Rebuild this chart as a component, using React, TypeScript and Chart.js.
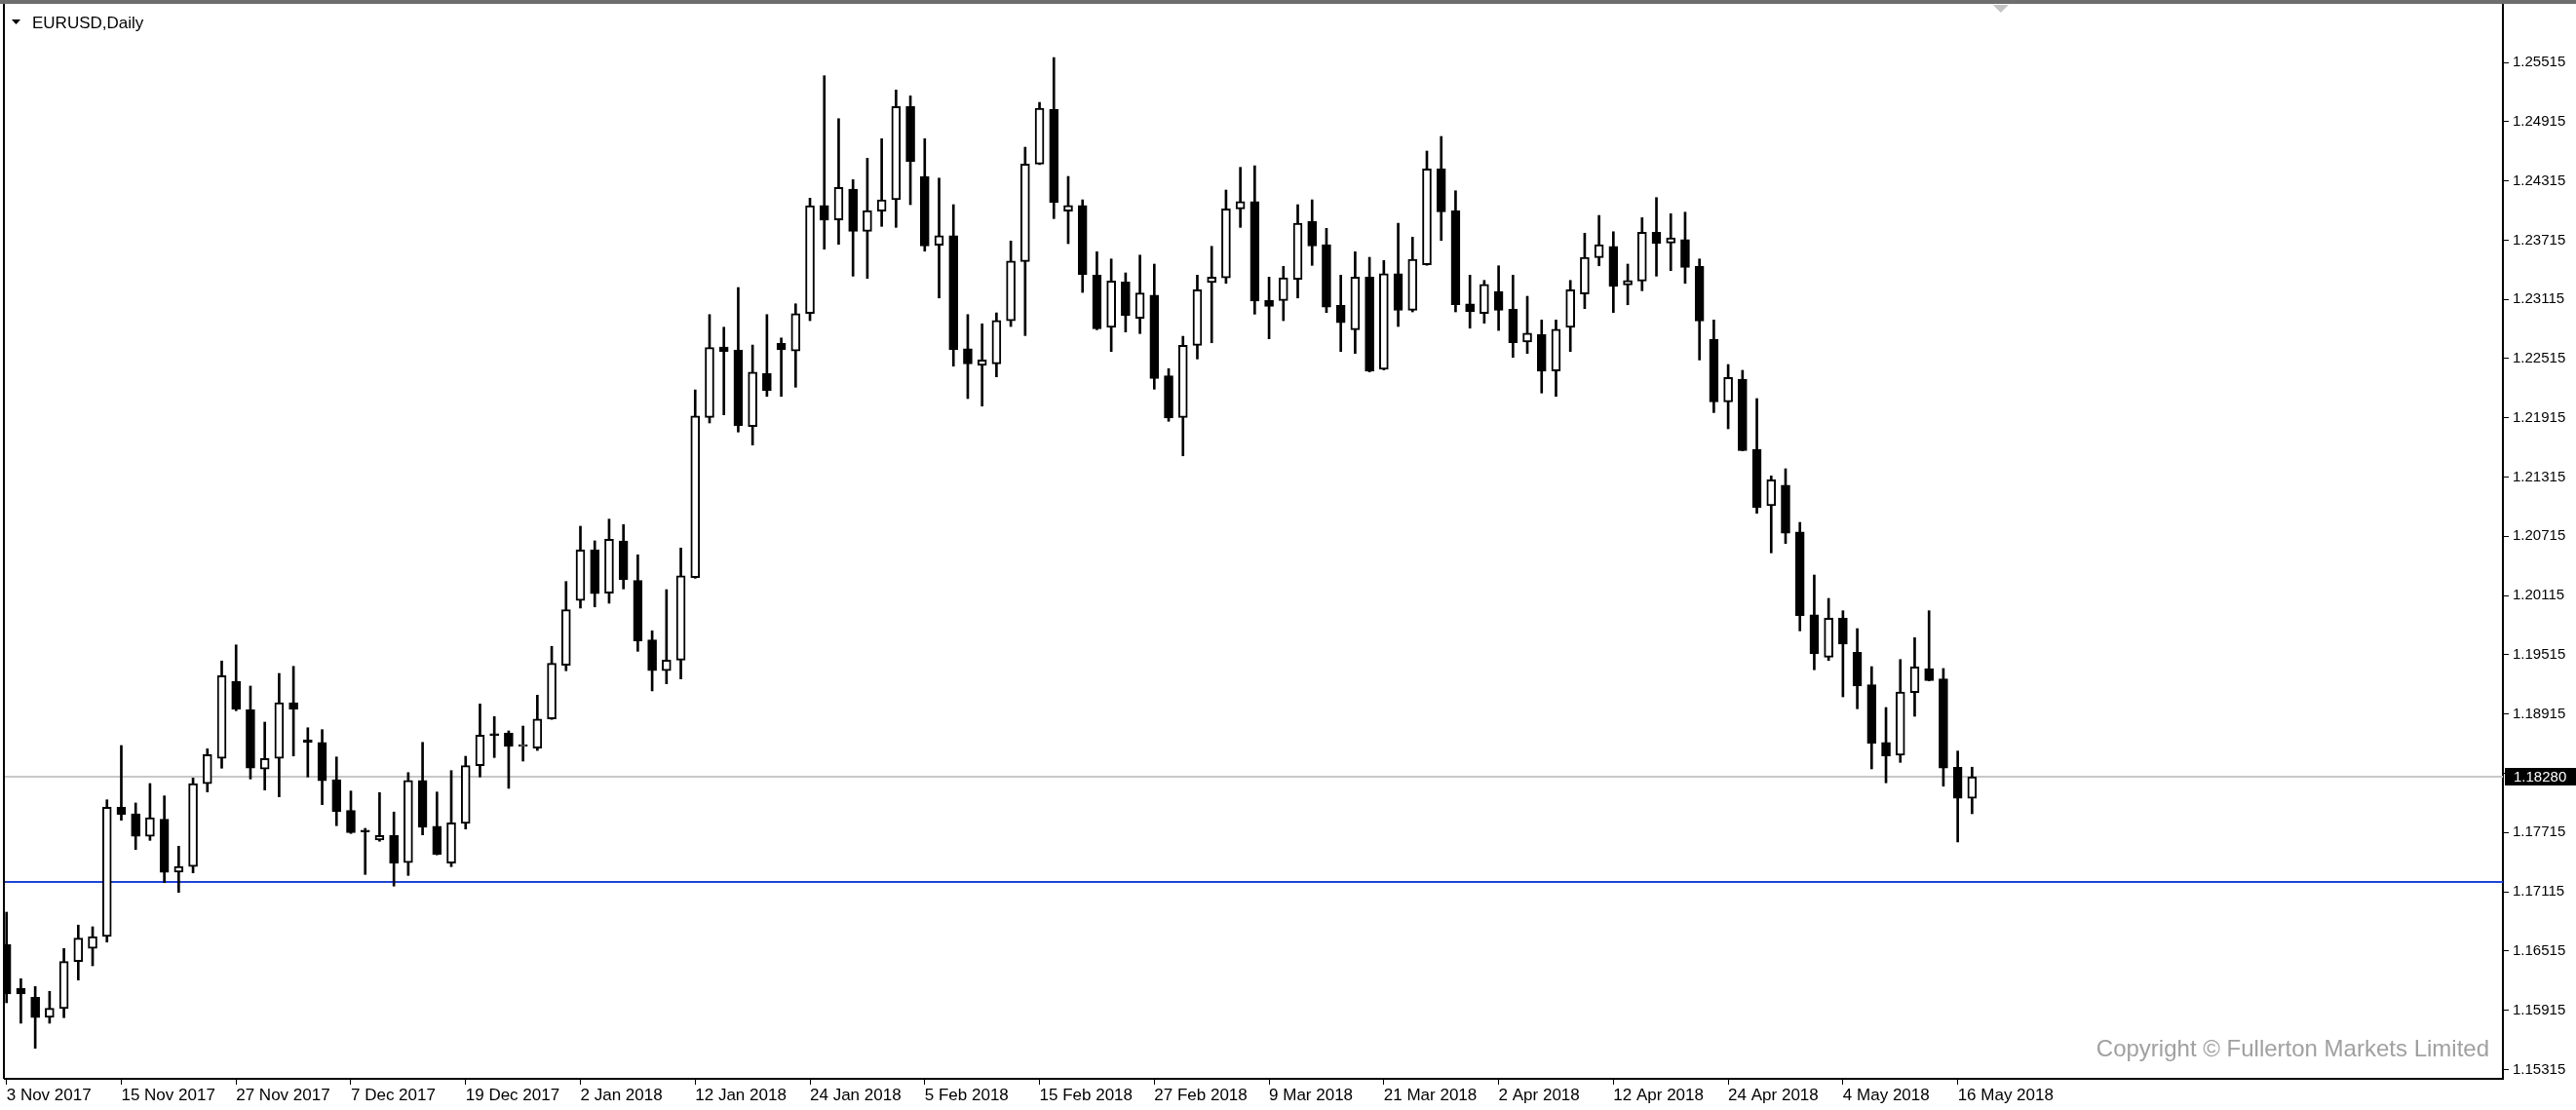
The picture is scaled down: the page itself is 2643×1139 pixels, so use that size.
import React, { useEffect, useRef } from 'react';
import { Chart, registerables } from 'chart.js';

Chart.register(...registerables);

// ---- Data (EURUSD daily, 3 Nov 2017 .. 17 May 2018) ----
const openPrices = [
  1.16582, 1.16138, 1.16046, 1.15842, 1.15931, 1.16408, 1.1654, 1.16661, 1.17971, 1.17905,
  1.17675, 1.17849, 1.17313, 1.17369, 1.18208, 1.18465, 1.19247, 1.18958, 1.18356, 1.18465,
  1.1903, 1.18652, 1.18628, 1.1825, 1.17938, 1.17728, 1.17638, 1.17685, 1.17409, 1.18243,
  1.17777, 1.17405, 1.17806, 1.18392, 1.18717, 1.18721, 1.18586, 1.18569, 1.18865, 1.19408,
  1.20066, 1.20577, 1.20139, 1.20669, 1.20267, 1.19665, 1.19353, 1.19461, 1.20296, 1.21919,
  1.22633, 1.226, 1.21826, 1.22363, 1.22669, 1.22593, 1.22971, 1.24067, 1.23919, 1.24232,
  1.23804, 1.24008, 1.24123, 1.25068, 1.2436, 1.23662, 1.23761, 1.22616, 1.22445, 1.22462,
  1.22899, 1.23498, 1.24485, 1.25038, 1.24008, 1.24067, 1.2336, 1.2283, 1.23291, 1.22922,
  1.23159, 1.2234, 1.21919, 1.22649, 1.23284, 1.23333, 1.24031, 1.24106, 1.23103, 1.23103,
  1.23317, 1.23903, 1.23669, 1.23054, 1.22807, 1.2334, 1.22406, 1.23376, 1.23005, 1.23465,
  1.24436, 1.24014, 1.2307, 1.22971, 1.23195, 1.23015, 1.22682, 1.22758, 1.22389, 1.2283,
  1.23169, 1.23538, 1.23652, 1.23261, 1.23301, 1.23794, 1.23686, 1.23721, 1.23449, 1.22709,
  1.22077, 1.22307, 1.21596, 1.21024, 1.21234, 1.2076, 1.19921, 1.19491, 1.19886, 1.1954,
  1.19211, 1.18628, 1.18497, 1.19132, 1.19376, 1.1927, 1.18376, 1.1806,
];
const highPrices = [
  1.16908, 1.16234, 1.16155, 1.16106, 1.1654, 1.16777, 1.1676, 1.18046, 1.18596, 1.18014,
  1.18211, 1.18086, 1.17576, 1.18267, 1.18563, 1.19452, 1.19615, 1.19198, 1.18833, 1.19326,
  1.19398, 1.18776, 1.18757, 1.1848, 1.18135, 1.17757, 1.18119, 1.17922, 1.18322, 1.18628,
  1.18125, 1.18342, 1.18487, 1.19017, 1.18889, 1.18744, 1.18793, 1.19106, 1.196, 1.20257,
  1.20817, 1.20669, 1.20889, 1.20833, 1.20527, 1.19758, 1.20175, 1.20596, 1.22198, 1.22961,
  1.22833, 1.23235, 1.22652, 1.22961, 1.22724, 1.2307, 1.2414, 1.2538, 1.24945, 1.24327,
  1.24544, 1.24742, 1.25235, 1.25176, 1.24742, 1.24343, 1.24074, 1.22961, 1.22867, 1.22978,
  1.23706, 1.24656, 1.2511, 1.25564, 1.2436, 1.24123, 1.23597, 1.23524, 1.23383, 1.23563,
  1.23472, 1.22413, 1.22741, 1.2336, 1.23652, 1.24222, 1.24452, 1.24468, 1.2334, 1.23449,
  1.24074, 1.24123, 1.23834, 1.2336, 1.23597, 1.23541, 1.23508, 1.23886, 1.23745, 1.24617,
  1.24765, 1.24215, 1.2336, 1.23307, 1.23455, 1.2336, 1.23146, 1.22906, 1.22906, 1.23307,
  1.23785, 1.23965, 1.238, 1.23472, 1.23942, 1.24146, 1.23982, 1.23998, 1.23524, 1.22906,
  1.22455, 1.22396, 1.2211, 1.21327, 1.21399, 1.20856, 1.20323, 1.20086, 1.19961, 1.1978,
  1.19395, 1.18981, 1.19467, 1.19688, 1.19961, 1.19376, 1.1854, 1.18376,
];
const lowPrices = [
  1.1599, 1.15783, 1.15529, 1.15783, 1.15839, 1.1622, 1.16365, 1.16605, 1.17839, 1.17543,
  1.17635, 1.17207, 1.17108, 1.17306, 1.18125, 1.18366, 1.18948, 1.18257, 1.18145, 1.18076,
  1.1849, 1.18277, 1.17997, 1.17784, 1.17705, 1.1729, 1.17626, 1.17172, 1.1728, 1.17691,
  1.17488, 1.17369, 1.1775, 1.18277, 1.18474, 1.18162, 1.18438, 1.18546, 1.1886, 1.19353,
  1.19988, 1.2, 1.20037, 1.20182, 1.1955, 1.19149, 1.19221, 1.1927, 1.2029, 1.21863,
  1.21945, 1.21771, 1.21639, 1.22132, 1.22132, 1.22225, 1.22899, 1.23623, 1.23672, 1.2335,
  1.23327, 1.23854, 1.23844, 1.24074, 1.23603, 1.23129, 1.22438, 1.2211, 1.22034, 1.2233,
  1.2284, 1.22748, 1.2448, 1.23933, 1.23679, 1.23185, 1.22807, 1.22586, 1.22784, 1.22768,
  1.22205, 1.2188, 1.2153, 1.22511, 1.22675, 1.23277, 1.23844, 1.22965, 1.22715, 1.22899,
  1.23129, 1.23459, 1.22981, 1.22586, 1.22567, 1.2238, 1.224, 1.2284, 1.22988, 1.2346,
  1.23711, 1.22988, 1.22823, 1.22873, 1.228, 1.22527, 1.22567, 1.22166, 1.22132, 1.22586,
  1.23021, 1.23455, 1.22981, 1.2306, 1.23202, 1.2335, 1.23406, 1.23277, 1.22501, 1.21968,
  1.21804, 1.2158, 1.20948, 1.20547, 1.20642, 1.19757, 1.19363, 1.19457, 1.19089, 1.18968,
  1.18359, 1.18218, 1.18425, 1.18892, 1.1925, 1.18184, 1.17619, 1.17905,
];
const closePrices = [
  1.16079, 1.16079, 1.15839, 1.15934, 1.16408, 1.16645, 1.16661, 1.17971, 1.17895, 1.17675,
  1.17865, 1.1731, 1.17372, 1.18211, 1.18504, 1.19304, 1.18964, 1.18366, 1.18465, 1.1903,
  1.18964, 1.18625, 1.1824, 1.17928, 1.17714, 1.1772, 1.17685, 1.17405, 1.18243, 1.17767,
  1.17493, 1.17813, 1.18392, 1.18701, 1.18695, 1.18586, 1.186, 1.18865, 1.19428, 1.19971,
  1.20577, 1.20133, 1.20685, 1.20274, 1.19655, 1.19353, 1.19461, 1.20316, 1.21935, 1.22626,
  1.22586, 1.21836, 1.22379, 1.22189, 1.22603, 1.22971, 1.24064, 1.23916, 1.24248, 1.23804,
  1.24014, 1.24123, 1.25068, 1.24511, 1.23656, 1.23761, 1.22603, 1.22462, 1.22501, 1.22902,
  1.23504, 1.24485, 1.25051, 1.24096, 1.24067, 1.23366, 1.22817, 1.23301, 1.22949, 1.23179,
  1.22314, 1.21912, 1.22649, 1.23212, 1.2334, 1.24031, 1.24106, 1.23097, 1.23044, 1.23333,
  1.23886, 1.23656, 1.23037, 1.22879, 1.2334, 1.22386, 1.23376, 1.23005, 1.23521, 1.24436,
  1.24002, 1.2306, 1.22988, 1.23267, 1.23005, 1.22675, 1.22774, 1.22386, 1.22813, 1.23212,
  1.23541, 1.23669, 1.23245, 1.23307, 1.23794, 1.23679, 1.23738, 1.23439, 1.22896, 1.22077,
  1.22324, 1.21583, 1.21004, 1.21287, 1.20745, 1.19912, 1.19527, 1.19886, 1.19622, 1.19198,
  1.18619, 1.1849, 1.19139, 1.19392, 1.19254, 1.18366, 1.1806, 1.1828,
];

const dateTickIndex = [0, 8, 16, 24, 32, 40, 48, 56, 64, 72, 80, 88, 96, 104, 112, 120, 128, 136];
const dateTickLabels = [
  '3 Nov 2017', '15 Nov 2017', '27 Nov 2017', '7 Dec 2017', '19 Dec 2017', '2 Jan 2018',
  '12 Jan 2018', '24 Jan 2018', '5 Feb 2018', '15 Feb 2018', '27 Feb 2018', '9 Mar 2018',
  '21 Mar 2018', '2 Apr 2018', '12 Apr 2018', '24 Apr 2018', '4 May 2018', '16 May 2018',
];
const priceTicks = [
  1.15315, 1.15915, 1.16515, 1.17115, 1.17715, 1.18315, 1.18915, 1.19515, 1.20115,
  1.20715, 1.21315, 1.21915, 1.22515, 1.23115, 1.23715, 1.24315, 1.24915, 1.25515,
];
const hiddenPriceTick = 1.18315; // covered by the bid label in the original
const bidPrice = 1.1828;
const supportLevel = 1.1721;
const chartTitle = 'EURUSD,Daily';
const copyrightText = 'Copyright © Fullerton Markets Limited';

const W = 2643;
const H = 1139;
const FONT = "'Liberation Sans', Arial, sans-serif";

const overlayPlugin = {
  id: 'mt4Overlay',
  beforeDatasetsDraw(chart: any) {
    const { ctx, chartArea: a, scales } = chart;
    const ys = scales.y;
    ctx.save();
    ctx.beginPath();
    ctx.rect(a.left, a.top, a.right - a.left, a.bottom - a.top);
    ctx.clip();
    const by = Math.round(ys.getPixelForValue(bidPrice));
    ctx.strokeStyle = '#c8c8c8';
    ctx.lineWidth = 2;
    ctx.beginPath();
    ctx.moveTo(a.left, by);
    ctx.lineTo(a.right, by);
    ctx.stroke();
    const sy = Math.round(ys.getPixelForValue(supportLevel));
    ctx.strokeStyle = '#1f45d6';
    ctx.lineWidth = 2;
    ctx.beginPath();
    ctx.moveTo(a.left, sy);
    ctx.lineTo(a.right, sy);
    ctx.stroke();
    ctx.restore();
  },
  afterDraw(chart: any) {
    const { ctx, chartArea: a, scales } = chart;
    const ys = scales.y;
    const xs = scales.x;
    ctx.save();
    // window top band
    ctx.fillStyle = '#6e6e6e';
    ctx.fillRect(0, 0, W, 4);
    // left frame
    ctx.strokeStyle = '#000';
    ctx.lineWidth = 2;
    ctx.beginPath();
    ctx.moveTo(a.left - 1, 4);
    ctx.lineTo(a.left - 1, a.bottom);
    ctx.stroke();
    // title
    ctx.fillStyle = '#000';
    ctx.beginPath();
    ctx.moveTo(12, 20);
    ctx.lineTo(21, 20);
    ctx.lineTo(16.5, 25);
    ctx.closePath();
    ctx.fill();
    ctx.font = `17px ${FONT}`;
    ctx.textAlign = 'left';
    ctx.textBaseline = 'alphabetic';
    ctx.fillText(chartTitle, 33, 29);
    // chart-shift marker
    const mx = xs.getPixelForValue(139);
    ctx.fillStyle = '#c4c4c4';
    ctx.beginPath();
    ctx.moveTo(mx - 8, 5);
    ctx.lineTo(mx + 8, 5);
    ctx.lineTo(mx, 13);
    ctx.closePath();
    ctx.fill();
    // bid label
    const by = Math.round(ys.getPixelForValue(bidPrice));
    ctx.fillStyle = '#000';
    ctx.fillRect(a.right + 2, by - 9, W - a.right - 2, 18);
    ctx.fillStyle = '#fff';
    ctx.font = `15px ${FONT}`;
    ctx.textBaseline = 'middle';
    ctx.fillText(bidPrice.toFixed(5), a.right + 11, by + 1);
    // copyright
    ctx.fillStyle = '#a0a0a0';
    ctx.font = `24px ${FONT}`;
    ctx.textAlign = 'right';
    ctx.textBaseline = 'alphabetic';
    ctx.fillText(copyrightText, 2554, 1084);
    ctx.restore();
  },
};

export default function App() {
  const ref = useRef<HTMLCanvasElement>(null);

  useEffect(() => {
    const canvas = ref.current;
    if (!canvas) return;
    const bodies = openPrices.map((o, i) => ({ x: i, y: [o, closePrices[i]] }));
    const wicks = lowPrices.map((l, i) => ({ x: i, y: [l, highPrices[i]] }));
    const bodyFill = openPrices.map((o, i) => (closePrices[i] < o ? '#000000' : '#ffffff'));

    const chart = new Chart(canvas, {
      type: 'bar',
      data: {
        datasets: [
          {
            label: 'body',
            data: bodies as any,
            backgroundColor: bodyFill,
            borderColor: '#000000',
            borderWidth: 2,
            borderSkipped: false,
            barThickness: 9,
            minBarLength: 2,
            grouped: false,
            order: 0,
          } as any,
          {
            label: 'wick',
            data: wicks as any,
            backgroundColor: '#000000',
            borderWidth: 0,
            barThickness: 2,
            grouped: false,
            order: 1,
          } as any,
        ],
      },
      options: {
        responsive: false,
        devicePixelRatio: 1,
        animation: false,
        events: [],
        layout: { padding: { left: 5, top: 5, right: 0, bottom: 0 } },
        plugins: { legend: { display: false }, tooltip: { enabled: false } },
        scales: {
          x: {
            type: 'linear',
            position: 'bottom',
            min: -0.1155,
            max: 174.0,
            offset: false,
            afterBuildTicks: (s: any) => {
              s.ticks = dateTickIndex.map((v) => ({ value: v }));
            },
            afterFit: (s: any) => {
              s.height = 32;
              s.paddingLeft = 0;
              s.paddingRight = 0;
            },
            ticks: {
              autoSkip: false,
              maxRotation: 0,
              minRotation: 0,
              align: 'start',
              padding: 1,
              color: '#000',
              font: { family: FONT, size: 17 },
              callback: (_v: any, i: number) => dateTickLabels[i],
            },
            grid: { offset: false, drawOnChartArea: false, drawTicks: true, tickLength: 6, color: '#000' },
            border: { display: true, color: '#000', width: 2 },
          } as any,
          y: {
            type: 'linear',
            position: 'right',
            min: 1.1522,
            max: 1.260976,
            afterBuildTicks: (s: any) => {
              s.ticks = priceTicks.map((v) => ({ value: v }));
            },
            afterFit: (s: any) => {
              s.width = 75;
              s.paddingTop = 0;
              s.paddingBottom = 0;
            },
            ticks: {
              autoSkip: false,
              padding: 4,
              color: '#000',
              font: { family: FONT, size: 15 },
              callback: (v: any) => (Math.abs(v - hiddenPriceTick) < 1e-6 ? '' : Number(v).toFixed(5)),
            },
            grid: { drawOnChartArea: false, drawTicks: true, tickLength: 6, color: '#000' },
            border: { display: true, color: '#000', width: 2 },
          } as any,
        },
      } as any,
      plugins: [overlayPlugin],
    });
    return () => chart.destroy();
  }, []);

  return (
    <div style={{ position: 'fixed', left: 0, top: 0, width: W, height: H, background: '#fff' }}>
      <canvas ref={ref} width={W} height={H} style={{ display: 'block', width: W, height: H }} />
    </div>
  );
}
